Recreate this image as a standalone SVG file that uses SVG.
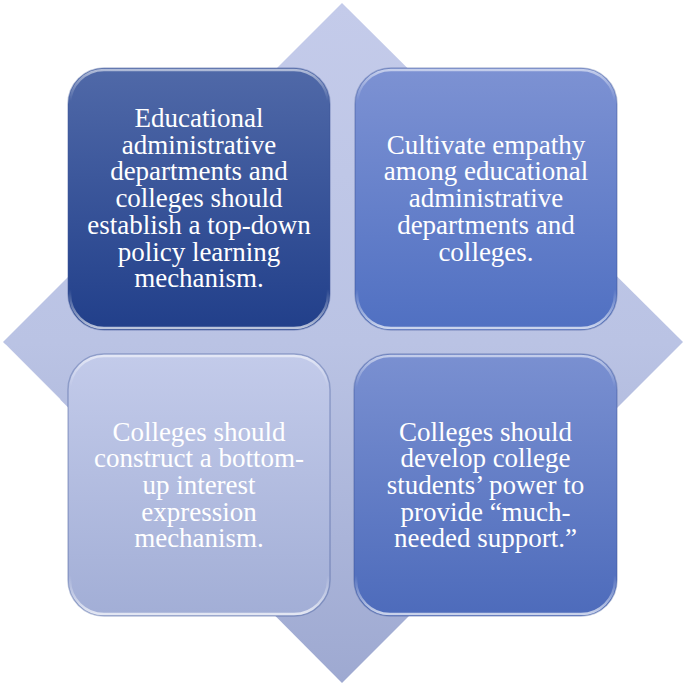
<svg xmlns="http://www.w3.org/2000/svg" width="685" height="685" viewBox="0 0 685 685">
<defs>
<linearGradient id="gDiamond" x1="0" y1="0" x2="0" y2="1">
<stop offset="0" stop-color="#c4cbea"/>
<stop offset="0.5" stop-color="#bac3e4"/>
<stop offset="1" stop-color="#9ea9d1"/>
</linearGradient>
<linearGradient id="gTL" x1="0" y1="0" x2="0" y2="1">
<stop offset="0" stop-color="#5069a8"/>
<stop offset="1" stop-color="#213f8a"/>
</linearGradient>
<linearGradient id="gTR" x1="0" y1="0" x2="0" y2="1">
<stop offset="0" stop-color="#7d92d3"/>
<stop offset="1" stop-color="#5070c2"/>
</linearGradient>
<linearGradient id="gBL" x1="0" y1="0" x2="0" y2="1">
<stop offset="0" stop-color="#c3cbea"/>
<stop offset="1" stop-color="#a2aed6"/>
</linearGradient>
<linearGradient id="gBR" x1="0" y1="0" x2="0" y2="1">
<stop offset="0" stop-color="#7a90d1"/>
<stop offset="1" stop-color="#4d6bbb"/>
</linearGradient>
<linearGradient id="gEdge" x1="0" y1="0" x2="0" y2="1">
<stop offset="0" stop-color="#ffffff" stop-opacity="0.55"/>
<stop offset="0.12" stop-color="#ffffff" stop-opacity="0"/>
<stop offset="0.85" stop-color="#ffffff" stop-opacity="0"/>
<stop offset="1" stop-color="#ffffff" stop-opacity="0.7"/>
</linearGradient>
</defs>
<style>
.box{stroke:#3a5296;stroke-opacity:0.35;stroke-width:1.5}
.edge{fill:none;stroke:url(#gEdge);stroke-width:2.5}
.t{font-family:"Liberation Serif","Times New Roman",serif;font-size:27px;fill:#ffffff;text-anchor:middle}
</style>
<g id="diamond">
<polygon points="342,3 683,342 342,683 3,342" fill="url(#gDiamond)"/>
<line x1="5" y1="345" x2="60" y2="400" stroke="#ffffff" stroke-opacity="0.6" stroke-width="2"/>
</g>
<g id="connectors"></g>
<g id="node-tl">
<rect class="box" x="68" y="68" width="262" height="262" rx="36" fill="url(#gTL)"/>
<rect class="edge" x="70" y="70" width="258" height="258" rx="34"/>
<text class="t"><tspan x="199" y="127">Educational</tspan><tspan x="199" y="153.7">administrative</tspan><tspan x="199" y="180.4">departments and</tspan><tspan x="199" y="207.1">colleges should</tspan><tspan x="199" y="233.8">establish a top-down</tspan><tspan x="199" y="260.5">policy learning</tspan><tspan x="199" y="287.2">mechanism.</tspan></text>
</g>
<g id="node-tr">
<rect class="box" x="355" y="68" width="262" height="262" rx="36" fill="url(#gTR)"/>
<rect class="edge" x="357" y="70" width="258" height="258" rx="34"/>
<text class="t"><tspan x="486" y="153.7">Cultivate empathy</tspan><tspan x="486" y="180.4">among educational</tspan><tspan x="486" y="207.1">administrative</tspan><tspan x="486" y="233.8">departments and</tspan><tspan x="486" y="260.5">colleges.</tspan></text>
</g>
<g id="node-bl">
<rect class="box" x="68" y="354" width="262" height="262" rx="36" fill="url(#gBL)"/>
<rect class="edge" x="70" y="356" width="258" height="258" rx="34"/>
<text class="t"><tspan x="199" y="440.6">Colleges should</tspan><tspan x="199" y="467.3">construct a bottom-</tspan><tspan x="199" y="494">up interest</tspan><tspan x="199" y="520.7">expression</tspan><tspan x="199" y="547.4">mechanism.</tspan></text>
</g>
<g id="node-br">
<rect class="box" x="354" y="354" width="263" height="262" rx="36" fill="url(#gBR)"/>
<rect class="edge" x="356" y="356" width="259" height="258" rx="34"/>
<text class="t"><tspan x="485.5" y="440.6">Colleges should</tspan><tspan x="485.5" y="467.3">develop college</tspan><tspan x="485.5" y="494">students’ power to</tspan><tspan x="485.5" y="520.7">provide “much-</tspan><tspan x="485.5" y="547.4">needed support.”</tspan></text>
</g>
</svg>
